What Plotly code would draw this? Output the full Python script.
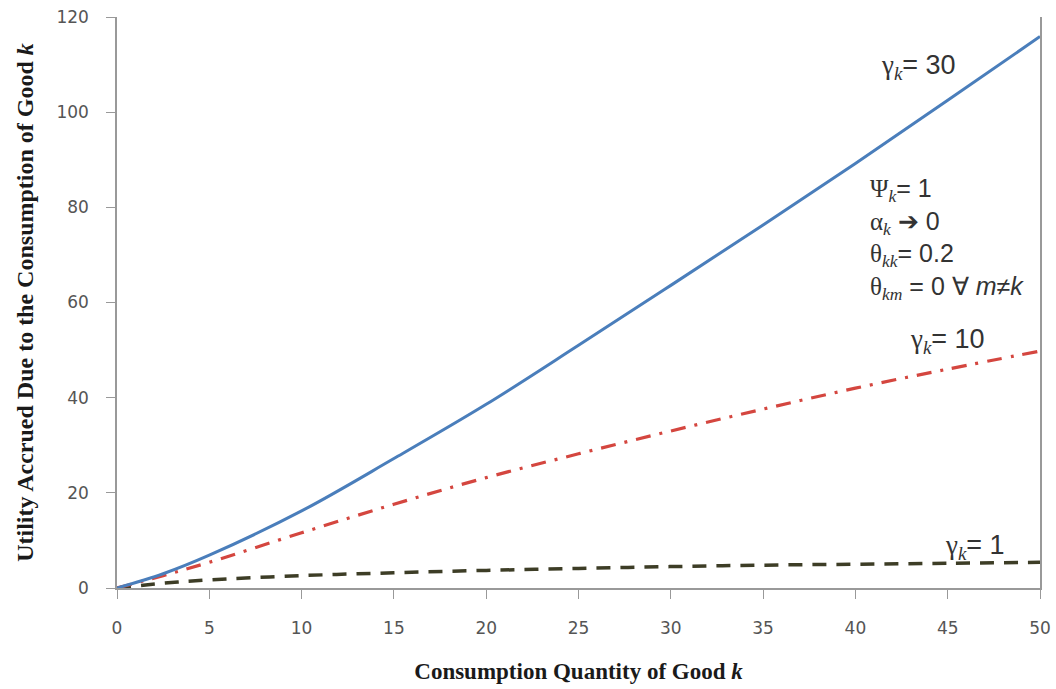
import plotly.graph_objects as go

x_vals = [0, 2.5, 5, 10, 15, 20, 25, 30, 35, 40, 45, 50]
gamma30 = [0, 3.0, 6.9, 16.2, 27.2, 38.6, 51.0, 63.6, 76.3, 89.2, 102.5, 115.9]
gamma10 = [0, 2.6, 5.4, 11.6, 17.6, 23.2, 28.2, 33.0, 37.6, 42.0, 46.0, 49.8]
gamma1 = [0, 1.0, 1.7, 2.6, 3.2, 3.7, 4.1, 4.5, 4.8, 5.0, 5.2, 5.4]

x_ticks = [0, 5, 10, 15, 20, 25, 30, 35, 40, 45, 50]
y_ticks = [0, 20, 40, 60, 80, 100, 120]

fig = go.Figure()
fig.add_trace(go.Scatter(x=x_vals, y=gamma1, mode="lines", line_shape="spline",
                         line=dict(color="#3d3d26", width=3.5, dash="14px,10px"), showlegend=False))
fig.add_trace(go.Scatter(x=x_vals, y=gamma10, mode="lines", line_shape="spline",
                         line=dict(color="#d4463f", width=3.2, dash="15px,9px,3px,9px"), showlegend=False))
fig.add_trace(go.Scatter(x=x_vals, y=gamma30, mode="lines", line_shape="spline",
                         line=dict(color="#4a7ebb", width=3), showlegend=False))

SERIF = "font-family:'Liberation Serif'"
def glabel(val):
    return (f"<span style=\"{SERIF}\">γ<sub><i>k</i></sub></span>= {val}")

ann_font = dict(family="Liberation Sans", size=27, color="#333333")
fig.add_annotation(x=41.3, y=109.5, text=glabel(30), showarrow=False,
                   xanchor="left", yanchor="middle", font=ann_font)
fig.add_annotation(x=42.85, y=52.0, text=glabel(10), showarrow=False,
                   xanchor="left", yanchor="middle", font=ann_font)
fig.add_annotation(x=44.75, y=8.6, text=glabel(1), showarrow=False,
                   xanchor="left", yanchor="middle", font=ann_font)
fig.add_annotation(x=40.7, y=87.5,
                   text=(f"<span style=\"{SERIF}\">Ψ<sub><i>k</i></sub></span>= 1<br>"
                         f"<span style=\"{SERIF}\">α<sub><i>k</i></sub></span> ➔ 0<br>"
                         f"<span style=\"{SERIF}\">θ<sub><i>kk</i></sub></span>= 0.2<br>"
                         f"<span style=\"{SERIF}\">θ<sub><i>km</i></sub></span> = 0 ∀ <i>m</i>≠<i>k</i>"),
                   showarrow=False, xanchor="left", yanchor="top", align="left",
                   font=dict(family="Liberation Sans", size=25, color="#333333"))

fig.update_layout(
    width=1056, height=689,
    margin=dict(l=117, r=16, t=17, b=101),
    paper_bgcolor="white", plot_bgcolor="white",
    xaxis=dict(range=[0, 50], tickvals=x_ticks, ticks="outside", ticklen=9, tickcolor="#999999",
               showline=True, linecolor="#999999", linewidth=1.5, showgrid=False, zeroline=False,
               ticklabelstandoff=15, automargin=False,
               tickfont=dict(family="DejaVu Sans", size=17, color="#555555"),
               title=dict(text="<b>Consumption Quantity of Good <i>k</i></b>",
                          font=dict(family="Liberation Serif", size=23, color="#1a1a1a"), standoff=26)),
    yaxis=dict(range=[0, 120], tickvals=y_ticks, ticks="outside", ticklen=9, tickcolor="#999999",
               showline=True, linecolor="#999999", linewidth=1.5, mirror=True, showgrid=False, zeroline=False,
               ticklabelstandoff=14, automargin=False,
               tickfont=dict(family="DejaVu Sans", size=17, color="#555555"),
               title=dict(text="<b>Utility Accrued Due to the Consumption of Good <i>k</i></b>",
                          font=dict(family="Liberation Serif", size=24, color="#1a1a1a"), standoff=16)),
)

fig.write_html("out.html")
